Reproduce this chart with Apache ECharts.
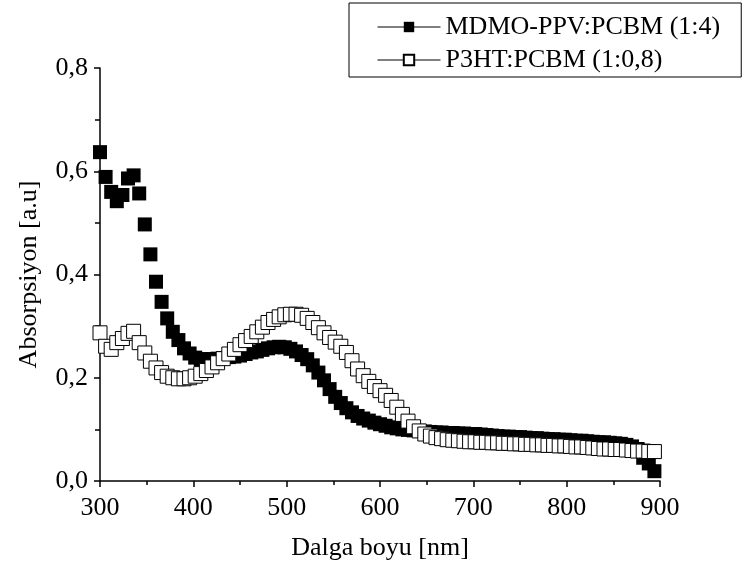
<!DOCTYPE html>
<html>
<head>
<meta charset="utf-8">
<script src="https://cdn.jsdelivr.net/npm/echarts@6/dist/echarts.min.js"></script>
<style>
html,body{margin:0;padding:0;background:#fff;}
#chart{width:755px;height:579px;}
</style>
</head>
<body>
<div id="chart"></div>
<script>
const wavelength = [300,306,312,318,324,330,336,342,348,354,360,366,372,378,384,390,396,402,408,414,420,426,432,438,444,450,456,462,468,474,480,486,492,498,504,510,516,522,528,534,540,546,552,558,564,570,576,582,588,594,600,606,612,618,624,630,636,642,648,654,660,666,672,678,684,690,696,702,708,714,720,726,732,738,744,750,756,762,768,774,780,786,792,798,804,810,816,822,828,834,840,846,852,858,864,870,876,882,888,894];

const mdmoPpv = [0.637,0.589,0.560,0.542,0.554,0.586,0.592,0.557,0.497,0.439,0.386,0.347,0.315,0.289,0.273,0.257,0.247,0.239,0.236,0.236,0.236,0.237,0.238,0.240,0.241,0.243,0.246,0.249,0.251,0.254,0.257,0.259,0.260,0.259,0.256,0.251,0.244,0.236,0.224,0.210,0.195,0.178,0.163,0.151,0.141,0.133,0.126,0.121,0.117,0.113,0.110,0.107,0.104,0.102,0.100,0.099,0.098,0.097,0.096,0.095,0.094,0.094,0.093,0.093,0.092,0.092,0.091,0.091,0.090,0.089,0.088,0.087,0.086,0.086,0.085,0.085,0.084,0.083,0.083,0.082,0.081,0.081,0.080,0.080,0.079,0.078,0.078,0.077,0.076,0.075,0.075,0.074,0.073,0.072,0.070,0.067,0.062,0.045,0.034,0.019];

const p3ht = [0.287,0.261,0.255,0.268,0.276,0.286,0.290,0.268,0.248,0.232,0.219,0.210,0.203,0.200,0.198,0.198,0.200,0.203,0.208,0.214,0.221,0.229,0.237,0.246,0.255,0.264,0.272,0.280,0.289,0.298,0.307,0.313,0.318,0.322,0.323,0.323,0.321,0.315,0.307,0.297,0.287,0.278,0.269,0.261,0.249,0.233,0.217,0.204,0.193,0.183,0.175,0.166,0.156,0.143,0.129,0.116,0.105,0.097,0.091,0.087,0.084,0.082,0.080,0.079,0.078,0.077,0.076,0.076,0.075,0.075,0.074,0.074,0.073,0.073,0.072,0.072,0.071,0.071,0.070,0.070,0.069,0.069,0.068,0.068,0.067,0.066,0.066,0.065,0.064,0.063,0.062,0.062,0.061,0.061,0.060,0.059,0.058,0.058,0.057,0.057];

const seriesNames = ['MDMO-PPV:PCBM (1:4)', 'P3HT:PCBM (1:0,8)'];
const xTitle = 'Dalga boyu [nm]';
const yTitle = 'Absorpsiyon [a.u]';

const FONT = '"Liberation Serif", "Times New Roman", serif';

const chart = echarts.init(document.getElementById('chart'), null, {renderer: 'canvas'});

function pairs(xs, ys) { return xs.map((x, i) => [x, ys[i]]); }

chart.setOption({
  animation: false,
  backgroundColor: '#fff',
  grid: {left: 100, right: 95, top: 68, bottom: 98, containLabel: false},
  legend: {
    orient: 'vertical',
    left: 349,
    top: 3,
    padding: [11, 21, 4, 28],
    itemGap: 7,
    itemWidth: 63,
    itemHeight: 13,
    borderColor: '#000',
    borderWidth: 1,
    textStyle: {fontFamily: FONT, fontSize: 26, color: '#000', lineHeight: 26},
    lineStyle: {color: '#000', width: 1, opacity: 1},
    data: seriesNames
  },
  xAxis: {
    type: 'value',
    min: 300, max: 900, interval: 100,
    name: xTitle,
    nameLocation: 'middle',
    nameGap: 54,
    nameTextStyle: {fontFamily: FONT, fontSize: 26, color: '#000'},
    axisLine: {lineStyle: {color: '#000', width: 1.5}},
    axisTick: {show: true, inside: false, length: 6, lineStyle: {color: '#000', width: 1.5}},
    minorTick: {show: true, splitNumber: 2, length: 4, lineStyle: {color: '#000', width: 1.5}},
    splitLine: {show: false},
    axisLabel: {fontFamily: FONT, fontSize: 26, color: '#000', margin: 14}
  },
  yAxis: {
    type: 'value',
    min: 0, max: 0.8, interval: 0.2,
    name: yTitle,
    nameLocation: 'middle',
    nameGap: 58,
    nameRotate: 90,
    nameTextStyle: {fontFamily: FONT, fontSize: 26, color: '#000'},
    axisLine: {show: true, lineStyle: {color: '#000', width: 1.5}},
    axisTick: {show: true, inside: false, length: 6, lineStyle: {color: '#000', width: 1.5}},
    minorTick: {show: true, splitNumber: 2, length: 5, lineStyle: {color: '#000', width: 1.5}},
    splitLine: {show: false},
    axisLabel: {
      fontFamily: FONT, fontSize: 26, color: '#000', margin: 12,
      formatter: v => v.toFixed(1).replace('.', ',')
    }
  },
  series: [
    {
      name: seriesNames[0],
      type: 'line',
      data: pairs(wavelength, mdmoPpv),
      symbol: 'rect',
      symbolSize: 14,
      showSymbol: true,
      lineStyle: {width: 1, color: '#000', opacity: 0},
      itemStyle: {color: '#000', borderColor: '#000', borderWidth: 0},
      clip: false,
      z: 2
    },
    {
      name: seriesNames[1],
      type: 'line',
      data: pairs(wavelength, p3ht),
      symbol: 'rect',
      symbolSize: 14,
      showSymbol: true,
      lineStyle: {width: 1, color: '#000', opacity: 0},
      itemStyle: {color: '#fff', borderColor: '#000', borderWidth: 1},
      clip: false,
      z: 3
    }
  ]
});
</script>
</body>
</html>
